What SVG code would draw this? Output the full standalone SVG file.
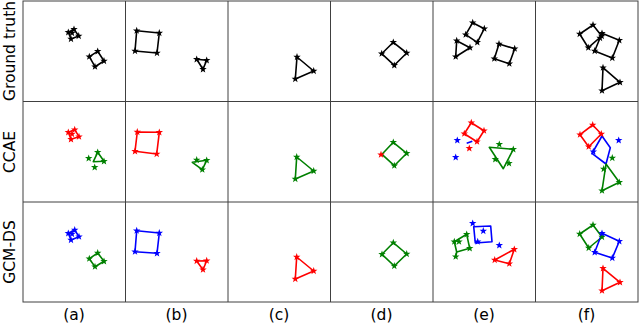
<svg xmlns="http://www.w3.org/2000/svg" xmlns:xlink="http://www.w3.org/1999/xlink" width="640" height="323" viewBox="0 0 640 323">
<style>
.frame{fill:none;stroke:#404040;stroke-width:1}
.k{fill:none;stroke:#000;stroke-width:1.6;stroke-linejoin:round}
.r{fill:none;stroke:#ff0000;stroke-width:1.6;stroke-linejoin:round}
.g{fill:none;stroke:#008000;stroke-width:1.6;stroke-linejoin:round}
.b{fill:none;stroke:#0000ff;stroke-width:1.6;stroke-linejoin:round}
.sk{fill:#000}.sr{fill:#ff0000}.sg{fill:#008000}.sb{fill:#0000ff}
.lbl{font-family:"DejaVu Sans",sans-serif;font-size:15.5px;fill:#000;text-anchor:middle}
</style>
<defs>
<path id="s" d="M0,-3.9 L0.95,-1.3 L3.71,-1.2 L1.53,0.5 L2.29,3.16 L0,1.62 L-2.29,3.16 L-1.53,0.5 L-3.71,-1.2 L-0.95,-1.3 Z"/>
</defs>
<rect width="640" height="323" fill="#fff"/>
<g id="frames">
<rect class="frame" x="23" y="1" width="615" height="301"/>
<line class="frame" x1="125.5" y1="1" x2="125.5" y2="302"/>
<line class="frame" x1="228" y1="1" x2="228" y2="302"/>
<line class="frame" x1="330.5" y1="1" x2="330.5" y2="302"/>
<line class="frame" x1="433" y1="1" x2="433" y2="302"/>
<line class="frame" x1="535.5" y1="1" x2="535.5" y2="302"/>
<line class="frame" x1="23" y1="101.5" x2="638" y2="101.5"/>
<line class="frame" x1="23" y1="202" x2="638" y2="202"/>
</g>
<g id="labels">
<text class="lbl" x="74" y="319.5">(a)</text>
<text class="lbl" x="176.5" y="319.5">(b)</text>
<text class="lbl" x="279" y="319.5">(c)</text>
<text class="lbl" x="381.5" y="319.5">(d)</text>
<text class="lbl" x="484" y="319.5">(e)</text>
<text class="lbl" x="586.5" y="319.5">(f)</text>
<text class="lbl" transform="translate(15,51) rotate(-90)">Ground truth</text>
<text class="lbl" transform="translate(15,152) rotate(-90)">CCAE</text>
<text class="lbl" transform="translate(15,252) rotate(-90)">GCM-DS</text>
</g>
<!-- Row 1: Ground truth -->
<g id="gt-a">
<polygon class="k" points="68.3,32.3 74,29.3 78.7,36 71,39"/>
<polygon class="k" points="89.3,56.7 97.7,51.3 104,61 95,66.7"/>
<g class="sk"><use href="#s" x="68.3" y="32.3"/><use href="#s" x="74" y="29.3"/><use href="#s" x="78.7" y="36"/><use href="#s" x="71" y="39"/><use href="#s" x="72" y="33"/>
<use href="#s" x="89.3" y="56.7"/><use href="#s" x="97.7" y="51.3"/><use href="#s" x="104" y="61"/><use href="#s" x="95" y="66.7"/></g>
</g>
<g id="gt-b">
<polygon class="k" points="136.7,30.7 159.3,33 157,53 135,51"/>
<polygon class="k" points="196.7,59.3 206.7,60.3 203,69.3"/>
<g class="sk"><use href="#s" x="136.7" y="30.7"/><use href="#s" x="159.3" y="33"/><use href="#s" x="157" y="53"/><use href="#s" x="135" y="51"/>
<use href="#s" x="196.7" y="59.3"/><use href="#s" x="206.7" y="60.3"/><use href="#s" x="203" y="69.3"/></g>
</g>
<g id="gt-c">
<polygon class="k" points="297,57 313.7,71 295.3,79"/>
<g class="sk"><use href="#s" x="297" y="57"/><use href="#s" x="313.7" y="71"/><use href="#s" x="295.3" y="79"/></g>
</g>
<g id="gt-d">
<polygon class="k" points="393.3,42.3 406.7,53 394.3,65.3 381.7,53.7"/>
<g class="sk"><use href="#s" x="393.3" y="42.3"/><use href="#s" x="406.7" y="53"/><use href="#s" x="394.3" y="65.3"/><use href="#s" x="381.7" y="53.7"/></g>
</g>
<g id="gt-e">
<polygon class="k" points="472.7,22.7 484.3,28.7 477.3,42.3 465.7,34.7"/>
<polygon class="k" points="456.7,40.7 470,47.7 455.7,56.7"/>
<polygon class="k" points="499,44 514.7,48.7 509.3,63.7 494.3,58.7"/>
<g class="sk"><use href="#s" x="472.7" y="22.7"/><use href="#s" x="484.3" y="28.7"/><use href="#s" x="477.3" y="42.3"/><use href="#s" x="465.7" y="34.7"/>
<use href="#s" x="456.7" y="40.7"/><use href="#s" x="470" y="47.7"/><use href="#s" x="455.7" y="56.7"/>
<use href="#s" x="499" y="44"/><use href="#s" x="514.7" y="48.7"/><use href="#s" x="509.3" y="63.7"/><use href="#s" x="494.3" y="58.7"/></g>
</g>
<g id="gt-f">
<polygon class="k" points="593,25 601.7,36 588.3,47.7 579.7,34"/>
<polygon class="k" points="602,33.3 619.3,40.3 612.3,58 594.7,51"/>
<polygon class="k" points="603,67.7 620,82.3 602,90.7"/>
<g class="sk"><use href="#s" x="593" y="25"/><use href="#s" x="601.7" y="36"/><use href="#s" x="588.3" y="47.7"/><use href="#s" x="579.7" y="34"/>
<use href="#s" x="602" y="33.3"/><use href="#s" x="619.3" y="40.3"/><use href="#s" x="612.3" y="58"/><use href="#s" x="594.7" y="51"/><use href="#s" x="600" y="38"/>
<use href="#s" x="603" y="67.7"/><use href="#s" x="620" y="82.3"/><use href="#s" x="602" y="90.7"/></g>
</g>
<!-- Row 2: CCAE -->
<g id="ccae-a">
<polygon class="r" points="68.3,132.3 74.7,129.7 79,136.7 71,139.3"/>
<polygon class="g" points="97.7,152.3 104,161.3 93.3,161.7"/>
<g class="sr"><use href="#s" x="68.3" y="132.3"/><use href="#s" x="74.7" y="129.7"/><use href="#s" x="79" y="136.7"/><use href="#s" x="71" y="139.3"/><use href="#s" x="72" y="134"/></g>
<g class="sg"><use href="#s" x="97.7" y="152.3"/><use href="#s" x="104" y="161.3"/><use href="#s" x="88.7" y="158.3"/><use href="#s" x="94.7" y="167.3"/></g>
</g>
<g id="ccae-b">
<polygon class="r" points="137.3,132 159.3,132.3 156.7,154 135,151.3"/>
<polygon class="g" points="192.3,162.3 206.7,160.3 202.3,169.7"/>
<g class="sr"><use href="#s" x="137.3" y="132"/><use href="#s" x="159.3" y="132.3"/><use href="#s" x="156.7" y="154"/><use href="#s" x="135" y="151.3"/></g>
<g class="sg"><use href="#s" x="196.7" y="160"/><use href="#s" x="206.7" y="160.3"/><use href="#s" x="202.3" y="169.7"/></g>
</g>
<g id="ccae-c">
<polygon class="g" points="296.7,157 313.7,171 295.3,179"/>
<g class="sg"><use href="#s" x="296.7" y="157"/><use href="#s" x="313.7" y="171"/><use href="#s" x="295.3" y="179"/></g>
</g>
<g id="ccae-d">
<polygon class="g" points="393.3,142.3 406.7,153.3 394.3,165.7 382,154.3"/>
<g class="sg"><use href="#s" x="393.3" y="142.3"/><use href="#s" x="406.7" y="153.3"/><use href="#s" x="394.3" y="165.7"/></g>
<use class="sr" href="#s" x="381" y="154.7"/>
</g>
<g id="ccae-e">
<polygon class="r" points="471.3,122.7 484,130.7 477,141.7 464.3,133.7"/>
<line class="b" x1="466.7" y1="143.3" x2="472.3" y2="141.3"/>
<polygon class="g" points="489.3,147.3 513.3,149.3 503.3,168.7"/>
<g class="sr"><use href="#s" x="471.3" y="122.7"/><use href="#s" x="484" y="130.7"/><use href="#s" x="477" y="141.7"/><use href="#s" x="464.3" y="133.7"/><use href="#s" x="469.3" y="148.3"/></g>
<g class="sb"><use href="#s" x="457.3" y="140.3"/><use href="#s" x="455.7" y="157.3"/></g>
<g class="sg"><use href="#s" x="499.3" y="144.3"/><use href="#s" x="513.3" y="149.3"/><use href="#s" x="495.3" y="159.3"/><use href="#s" x="509" y="163.3"/></g>
</g>
<g id="ccae-f">
<polygon class="r" points="592.7,125 601.3,134 588.7,146.7 580,134.7"/>
<polygon class="b" points="602,136 610.3,147.7 606,164 592,153.3 594,150"/>
<polygon class="g" points="606,164 619.3,182.3 602,190.7"/>
<g class="sr"><use href="#s" x="592.7" y="125"/><use href="#s" x="601.3" y="134"/><use href="#s" x="588.7" y="146.7"/><use href="#s" x="580" y="134.7"/></g>
<g class="sb"><use href="#s" x="618.7" y="140.3"/><use href="#s" x="593.3" y="151.7"/></g>
<g class="sg"><use href="#s" x="612.3" y="158"/><use href="#s" x="603.7" y="169"/><use href="#s" x="619.3" y="182.3"/><use href="#s" x="602" y="190.7"/></g>
</g>
<!-- Row 3: GCM-DS -->
<g id="gcm-a">
<polygon class="b" points="68.3,233.3 74.7,230 79,236.7 71,240"/>
<polygon class="g" points="89.3,258.7 97.7,253 104,261.3 95,266.7"/>
<g class="sb"><use href="#s" x="68.3" y="233.3"/><use href="#s" x="74.7" y="230"/><use href="#s" x="79" y="236.7"/><use href="#s" x="71" y="240"/><use href="#s" x="72" y="234"/></g>
<g class="sg"><use href="#s" x="89.3" y="258.7"/><use href="#s" x="97.7" y="253"/><use href="#s" x="104" y="261.3"/><use href="#s" x="95" y="266.7"/></g>
</g>
<g id="gcm-b">
<polygon class="b" points="136.7,230.7 159.3,233 157,253.3 135,251.7"/>
<polygon class="r" points="196.7,261 206.7,260.7 203,269.7"/>
<g class="sb"><use href="#s" x="136.7" y="230.7"/><use href="#s" x="159.3" y="233"/><use href="#s" x="157" y="253.3"/><use href="#s" x="135" y="251.7"/></g>
<g class="sr"><use href="#s" x="196.7" y="261"/><use href="#s" x="206.7" y="260.7"/><use href="#s" x="203" y="269.7"/></g>
</g>
<g id="gcm-c">
<polygon class="r" points="296.7,257 313.7,271 295.3,279"/>
<g class="sr"><use href="#s" x="296.7" y="257"/><use href="#s" x="313.7" y="271"/><use href="#s" x="295.3" y="279"/></g>
</g>
<g id="gcm-d">
<polygon class="g" points="393.3,242.7 406.7,254 394.3,266 382,254.3"/>
<g class="sg"><use href="#s" x="393.3" y="242.7"/><use href="#s" x="406.7" y="254"/><use href="#s" x="394.3" y="266"/><use href="#s" x="382" y="254.3"/></g>
</g>
<g id="gcm-e">
<polygon class="g" points="454.3,241.7 466.7,234.3 469.7,248.3 456.7,252"/>
<line class="g" x1="456.7" y1="252" x2="455.7" y2="256.7"/>
<polygon class="b" points="473.7,226.7 490.7,226 492,241.7 475.3,243"/>
<polygon class="r" points="494.7,260 514.3,249.3 509.3,263.7"/>
<g class="sg"><use href="#s" x="454.3" y="241.7"/><use href="#s" x="466.7" y="234.3"/><use href="#s" x="469.7" y="248.3"/><use href="#s" x="455.7" y="256.7"/><use href="#s" x="459" y="241.7"/></g>
<g class="sb"><use href="#s" x="472.7" y="223.3"/><use href="#s" x="483.3" y="231"/><use href="#s" x="477.7" y="241.7"/><use href="#s" x="499.3" y="245.3"/></g>
<g class="sr"><use href="#s" x="494.7" y="260"/><use href="#s" x="514.3" y="249.3"/><use href="#s" x="509.3" y="263.7"/></g>
</g>
<g id="gcm-f">
<polygon class="g" points="593,225 602,237 588.7,248 579.7,234"/>
<polygon class="b" points="602,233.3 619.3,241.3 612.3,258 594.7,252.3"/>
<polygon class="r" points="603,268.3 620,282.3 602,290.7"/>
<g class="sg"><use href="#s" x="593" y="225"/><use href="#s" x="602" y="237"/><use href="#s" x="588.7" y="248"/><use href="#s" x="579.7" y="234"/></g>
<g class="sb"><use href="#s" x="602" y="233.3"/><use href="#s" x="619.3" y="241.3"/><use href="#s" x="612.3" y="258"/><use href="#s" x="594.7" y="252.3"/></g>
<g class="sr"><use href="#s" x="603" y="268.3"/><use href="#s" x="620" y="282.3"/><use href="#s" x="602" y="290.7"/></g>
</g>
</svg>
